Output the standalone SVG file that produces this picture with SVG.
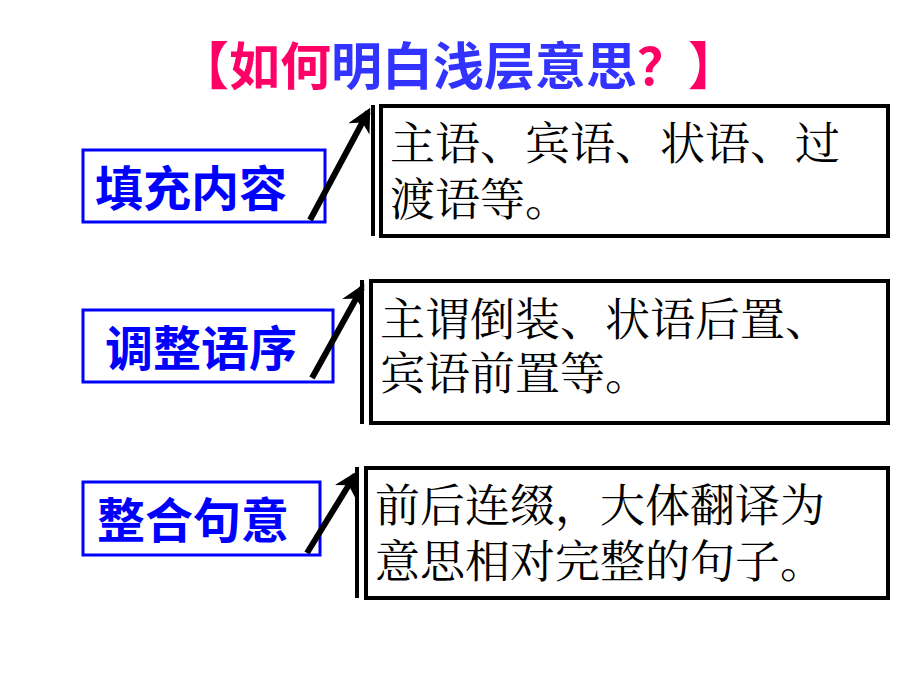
<svg xmlns="http://www.w3.org/2000/svg" width="920" height="690" viewBox="0 0 920 690">
<style>
.lb{fill:#fff;stroke:#0000FF;stroke-width:3}
.lt{font-family:"Noto Sans CJK SC",sans-serif;font-weight:bold;font-size:48px;fill:#0000FF}
.rb{fill:#fff;stroke:#000;stroke-width:4}
.bar{stroke:#000;stroke-width:4}
.rt{font-family:"Noto Serif CJK SC","Noto Sans CJK SC",serif;font-size:45px;fill:#000}
.ar{stroke:#000;stroke-width:6;fill:none;marker-end:url(#ah)}
</style>
<defs><marker id="ah" viewBox="0 0 10 10" refX="8" refY="5" markerWidth="4" markerHeight="4" orient="auto" markerUnits="strokeWidth"><path d="M0,0 L10,5 L0,10 L3,5 z" fill="#000"/></marker></defs>
<g id="title" font-family="Noto Sans CJK SC,sans-serif" font-weight="bold" font-size="51">
<text x="178" y="85"><tspan fill="#FF0066">【如何</tspan><tspan fill="#3333FF">明白浅层意思</tspan><tspan fill="#FF0066">？】</tspan></text>
</g>
<g id="n1"><rect class="lb" x="83" y="150" width="242" height="72"/><text class="lt" x="95" y="206">填充内容</text></g>
<g id="n2"><rect class="lb" x="83" y="310" width="250" height="72"/><text class="lt" x="105" y="366">调整语序</text></g>
<g id="n3"><rect class="lb" x="83" y="482" width="237" height="73"/><text class="lt" x="97" y="538">整合句意</text></g>
<g id="r1"><line class="bar" x1="373" y1="105" x2="373" y2="236"/><rect class="rb" x="381" y="106" width="507" height="130"/><text class="rt" x="390" y="160">主语、宾语、状语、过</text><text class="rt" x="390" y="216">渡语等。</text></g>
<g id="r2"><line class="bar" x1="362" y1="280" x2="362" y2="424"/><rect class="rb" x="371" y="281" width="517" height="142"/><text class="rt" x="380" y="336">主谓倒装、状语后置、</text><text class="rt" x="380" y="390">宾语前置等。</text></g>
<g id="r3"><line class="bar" x1="357" y1="467" x2="357" y2="598"/><rect class="rb" x="366" y="468" width="522" height="130"/><text class="rt" x="375" y="522">前后连缀，大体翻译为</text><text class="rt" x="375" y="578">意思相对完整的句子。</text></g>
<g id="connectors">
<line class="ar" x1="310" y1="220" x2="368" y2="112"/>
<line class="ar" x1="312" y1="378" x2="362" y2="288"/>
<line class="ar" x1="307" y1="553" x2="355" y2="475"/>
</g>
</svg>
